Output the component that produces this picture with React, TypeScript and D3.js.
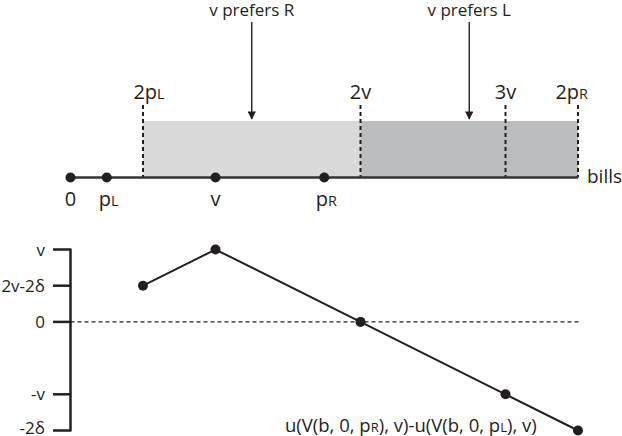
import React from "react";
import * as d3 from "d3";

// number line (bills), in units of v
const lineMarks = [
  { label: "0", sub: "", value: 0 },
  { label: "p", sub: "L", value: 0.25 },
  { label: "v", sub: "", value: 1 },
  { label: "p", sub: "R", value: 1.75 },
];
const cutMarks = [
  { label: "2p", sub: "L", value: 0.5 },
  { label: "2v", sub: "", value: 2 },
  { label: "3v", sub: "", value: 3 },
  { label: "2p", sub: "R", value: 3.5 },
];
const regions = [
  { from: 0.5, to: 2, fill: "#d9d9d9", text: "v prefers R" },
  { from: 2, to: 3.5, fill: "#bbbcbe", text: "v prefers L" },
];

// utility difference curve
const curveX = [0.5, 1, 2, 3, 3.5];
const curveY = [0.5, 1, 0, -1, -1.5];
const yTicks = [
  { label: "v", value: 1 },
  { label: "2v-2δ", value: 0.5 },
  { label: "0", value: 0 },
  { label: "-v", value: -1 },
  { label: "-2δ", value: -1.5 },
];

const ink = "#231f20";
const font = "'Open Sans', sans-serif";

function Label({ x, y, label, sub, size, anchor = "middle" }: any) {
  return (
    <text x={x} y={y} textAnchor={anchor} fontSize={size} fill={ink} fontFamily={font}>
      {label}
      {sub ? <tspan fontSize={size * 0.72}>{sub}</tspan> : null}
    </text>
  );
}

export default function App() {
  const width = 622;
  const height = 436;
  const x = d3.scaleLinear().domain([0, 3.5]).range([70.5, 578]);
  const y = d3.scaleLinear().domain([-1.5, 1]).range([430.5, 249.5]);
  const lineY = 177.5;
  const rectTop = 121;
  const axisX = 70.5;

  const path = d3
    .line<number>()
    .x((d) => x(d))
    .y((_, i) => y(curveY[i]))(curveX);

  return (
    <svg
      width={width}
      height={height}
      style={{ position: "absolute", left: 0, top: 0, background: "#fff" }}
    >
      <defs>
        <marker id="arr" viewBox="0 0 10 10" refX="9" refY="5" markerWidth="6" markerHeight="6" orient="auto">
          <path d="M0,0 L10,5 L0,10 z" fill={ink} />
        </marker>
      </defs>

      {/* shaded regions and arrows */}
      {regions.map((r) => (
        <g key={r.text}>
          <rect x={x(r.from)} y={rectTop} width={x(r.to) - x(r.from)} height={lineY - rectTop} fill={r.fill} />
          <line
            x1={x((r.from + r.to) / 2)}
            x2={x((r.from + r.to) / 2)}
            y1={22}
            y2={119}
            stroke={ink}
            strokeWidth={1.4}
            markerEnd="url(#arr)"
          />
          <text x={x((r.from + r.to) / 2)} y={16} textAnchor="middle" fontSize={17} fill={ink} fontFamily={font}>
            {r.text}
          </text>
        </g>
      ))}

      {/* dashed cut lines */}
      {cutMarks.map((m, i) => {
        const last = i === cutMarks.length - 1;
        const dx = last ? 10 : m.sub ? 6 : 0;
        return (
          <g key={m.label + m.sub}>
            <line x1={x(m.value)} x2={x(m.value)} y1={105} y2={lineY} stroke={ink} strokeWidth={2} strokeDasharray="4,3" />
            <Label x={x(m.value) + dx} y={99} label={m.label} sub={m.sub} size={20} anchor={last ? "end" : "middle"} />
          </g>
        );
      })}

      {/* number line */}
      <line x1={x(0)} x2={x(3.5)} y1={lineY} y2={lineY} stroke="#333" strokeWidth={2.5} />
      <text x={587} y={183} fontSize={19} fill={ink} fontFamily={font}>bills</text>
      {lineMarks.map((m) => (
        <g key={m.label + m.sub}>
          <circle cx={x(m.value)} cy={lineY} r={5} fill={ink} />
          <Label x={x(m.value) + (m.sub ? 2 : 0)} y={206} label={m.label} sub={m.sub} size={20} />
        </g>
      ))}

      {/* lower plot axis */}
      <line x1={axisX} x2={axisX} y1={y(1) - 1} y2={y(-1.5) + 1} stroke={ink} strokeWidth={2.5} />
      {yTicks.map((t) => (
        <g key={t.label}>
          <line x1={53} x2={axisX} y1={y(t.value)} y2={y(t.value)} stroke={ink} strokeWidth={2.5} />
          <text x={45} y={Math.min(y(t.value) + 6, 434)} textAnchor="end" fontSize={17} fill={ink} fontFamily={font}>
            {t.label}
          </text>
        </g>
      ))}
      <line x1={axisX} x2={580} y1={y(0)} y2={y(0)} stroke={ink} strokeWidth={1.3} strokeDasharray="4,3" />

      {/* curve */}
      <path d={path ?? ""} fill="none" stroke={ink} strokeWidth={2} />
      {curveX.map((cx, i) => (
        <circle key={i} cx={x(cx)} cy={y(curveY[i])} r={5} fill={ink} />
      ))}
      <text x={285} y={432} fontSize={18.5} fill={ink} fontFamily={font}>
        u(V(b, 0, p<tspan fontSize={13}>R</tspan>), v)-u(V(b, 0, p<tspan fontSize={13}>L</tspan>), v)
      </text>
    </svg>
  );
}
